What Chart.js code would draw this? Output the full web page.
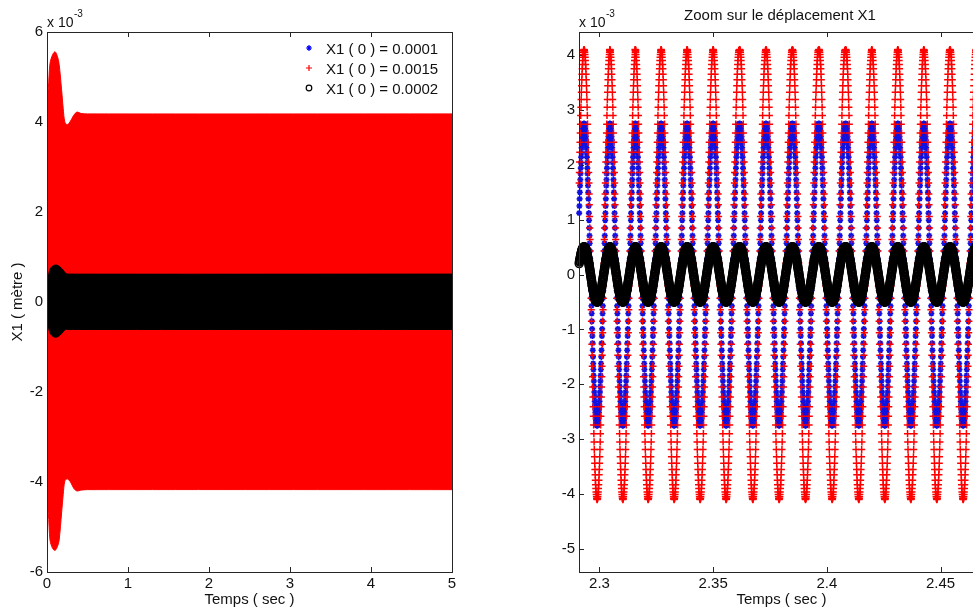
<!DOCTYPE html>
<html><head><meta charset="utf-8">
<script src="https://cdn.jsdelivr.net/npm/chart.js@4.4.1/dist/chart.umd.min.js"></script>
<style>
html,body{margin:0;padding:0;background:#fff;overflow:hidden;width:973px;height:612px;}
#left{position:absolute;left:0;top:0;}
#right{position:absolute;left:490px;top:0;}
</style></head><body>
<canvas id="left" width="490" height="612"></canvas>
<canvas id="right" width="530" height="612"></canvas>
<script>
// ---------- labels ----------
const seriesLabels = ['X1 ( 0 ) = 0.0001', 'X1 ( 0 ) = 0.0015', 'X1 ( 0 ) = 0.0002'];
const seriesColors = ['#0000ff', '#ff0000', '#000000'];
const xTitle = 'Temps ( sec )';
const leftYTitle = 'X1 ( mètre )';
const rightTitle = 'Zoom sur le déplacement X1';

// ---------- tick labels ----------
const leftXTicks = [0, 1, 2, 3, 4, 5];
const leftYTicks = [-6, -4, -2, 0, 2, 4, 6];
const rightXTicks = [2.3, 2.35, 2.4, 2.45];
const rightYTicks = [-5, -4, -3, -2, -1, 0, 1, 2, 3, 4];
const leftXRange = [0, 5];
const leftYRange = [-6, 6];
const rightXRange = [2.291, 2.4691];
const rightYRange = [-5.42, 4.42];

// ---------- left panel: envelopes of the dense bands (x 10^-3 m) ----------
const redEnvT     = [0, 0.016, 0.037, 0.07, 0.10, 0.13, 0.15, 0.18, 0.20, 0.22, 0.25, 0.29, 0.33, 0.37, 0.42, 0.50, 5.0];
const redUpper    = [4.60, 4.75, 5.30, 5.50, 5.56, 5.45, 5.28, 4.72, 4.30, 4.00, 3.94, 4.02, 4.15, 4.22, 4.19, 4.18, 4.18];
const redLower    = [-4.60, -4.69, -5.29, -5.48, -5.52, -5.43, -5.29, -4.69, -4.28, -3.98, -3.93, -4.00, -4.14, -4.20, -4.18, -4.17, -4.17];
const blueEnvT    = [0, 5.0];
const blueUpper   = [2.80, 2.80];
const blueLower   = [-2.80, -2.80];
const blackEnvT   = [0, 0.02, 0.04, 0.08, 0.12, 0.16, 0.20, 0.23, 0.26, 5.0];
const blackUpper  = [0.30, 0.60, 0.74, 0.81, 0.82, 0.78, 0.71, 0.64, 0.62, 0.62];
const blackLower  = [-0.30, -0.58, -0.70, -0.77, -0.78, -0.74, -0.66, -0.61, -0.61, -0.61];

// ---------- right panel: zoom, sampled markers (x 10^-3 m) ----------
const cyclePeakTimes = [2.2817, 2.29323, 2.30453, 2.31566, 2.32709, 2.33852, 2.34996, 2.36170, 2.37326,
  2.38487, 2.39657, 2.40831, 2.41974, 2.43118, 2.44261, 2.45418, 2.46568];
const cycleStep = 0.0000958; // seconds between samples inside one cycle
const redCycle = [4.10,4.09,4.08,4.05,4.01,3.96,3.90,3.83,3.75,3.65,3.55,3.44,3.32,3.19,3.05,2.90,2.74,2.58,2.41,2.23,2.05,1.86,1.67,1.47,1.27,1.06,0.85,0.64,0.43,0.21,0.00,
  -0.21,-0.43,-0.64,-0.85,-1.06,-1.27,-1.47,-1.67,-1.86,-2.05,-2.23,-2.41,-2.58,-2.74,-2.90,-3.05,-3.19,-3.32,-3.44,-3.55,-3.65,-3.75,-3.83,-3.90,-3.96,-4.01,-4.05,-4.08,-4.09,-4.10,
  -4.09,-4.08,-4.05,-4.01,-3.96,-3.90,-3.83,-3.75,-3.65,-3.55,-3.44,-3.32,-3.19,-3.05,-2.90,-2.74,-2.58,-2.41,-2.23,-2.05,-1.86,-1.67,-1.47,-1.27,-1.06,-0.85,-0.64,-0.43,-0.21,0.00,
  0.21,0.43,0.64,0.85,1.06,1.27,1.47,1.67,1.86,2.05,2.23,2.41,2.58,2.74,2.90,3.05,3.19,3.32,3.44,3.55,3.65,3.75,3.83,3.90,3.96,4.01,4.05,4.08,4.09];
const blueCycle = [2.75,2.75,2.74,2.72,2.69,2.66,2.62,2.57,2.51,2.45,2.38,2.31,2.22,2.14,2.04,1.94,1.84,1.73,1.62,1.50,1.38,1.25,1.12,0.99,0.85,0.71,0.57,0.43,0.29,0.14,0.00,
  -0.14,-0.29,-0.43,-0.57,-0.71,-0.85,-0.99,-1.12,-1.25,-1.38,-1.50,-1.62,-1.73,-1.84,-1.94,-2.04,-2.14,-2.22,-2.31,-2.38,-2.45,-2.51,-2.57,-2.62,-2.66,-2.69,-2.72,-2.74,-2.75,-2.75,
  -2.75,-2.74,-2.72,-2.69,-2.66,-2.62,-2.57,-2.51,-2.45,-2.38,-2.31,-2.22,-2.14,-2.04,-1.94,-1.84,-1.73,-1.62,-1.50,-1.38,-1.25,-1.12,-0.99,-0.85,-0.71,-0.57,-0.43,-0.29,-0.14,0.00,
  0.14,0.29,0.43,0.57,0.71,0.85,0.99,1.12,1.25,1.38,1.50,1.62,1.73,1.84,1.94,2.04,2.14,2.22,2.31,2.38,2.45,2.51,2.57,2.62,2.66,2.69,2.72,2.74,2.75];
const blackCycle = [0.50,0.50,0.50,0.49,0.49,0.48,0.48,0.47,0.46,0.45,0.43,0.42,0.40,0.39,0.37,0.35,0.33,0.31,0.29,0.27,0.25,0.23,0.20,0.18,0.15,0.13,0.10,0.08,0.05,0.03,0.00,
  -0.03,-0.05,-0.08,-0.10,-0.13,-0.15,-0.18,-0.20,-0.23,-0.25,-0.27,-0.29,-0.31,-0.33,-0.35,-0.37,-0.39,-0.40,-0.42,-0.43,-0.45,-0.46,-0.47,-0.48,-0.48,-0.49,-0.49,-0.50,-0.50,-0.50,
  -0.50,-0.50,-0.49,-0.49,-0.48,-0.48,-0.47,-0.46,-0.45,-0.43,-0.42,-0.40,-0.39,-0.37,-0.35,-0.33,-0.31,-0.29,-0.27,-0.25,-0.23,-0.20,-0.18,-0.15,-0.13,-0.10,-0.08,-0.05,-0.03,0.00,
  0.03,0.05,0.08,0.10,0.13,0.15,0.18,0.20,0.23,0.25,0.27,0.29,0.31,0.33,0.35,0.37,0.39,0.40,0.42,0.43,0.45,0.46,0.47,0.48,0.48,0.49,0.49,0.50,0.50];

// ---------- helpers ----------
const FONT = '"Liberation Sans", Arial, Helvetica, sans-serif';
const AXIS = '#262626';
Chart.defaults.font.family = FONT;
Chart.defaults.color = '#111';

function pts(ts, vs) { return ts.map((t, i) => ({x: t, y: vs[i]})); }
function buildSamples(cycle) {
  const out = [];
  cyclePeakTimes.forEach(t0 => cycle.forEach((v, i) => {
    const x = t0 + i * cycleStep;
    if (x >= rightXRange[0] && x <= rightXRange[1]) out.push({x: x, y: v});
  }));
  return out;
}

function drawMarker(ctx, kind, x, y, r, color) {
  ctx.save();
  ctx.strokeStyle = color; ctx.lineWidth = 1.2;
  ctx.beginPath();
  if (kind === 'plus' || kind === 'star') {
    ctx.moveTo(x - r, y); ctx.lineTo(x + r, y);
    ctx.moveTo(x, y - r); ctx.lineTo(x, y + r);
    if (kind === 'star') {
      const d = r * 0.6;
      ctx.moveTo(x - d, y - d); ctx.lineTo(x + d, y + d);
      ctx.moveTo(x - d, y + d); ctx.lineTo(x + d, y - d);
    }
  } else {
    ctx.arc(x, y, r, 0, Math.PI * 2);
  }
  ctx.stroke();
  ctx.restore();
}

const decor = {
  id: 'decor',
  beforeDatasetsDraw(chart) {
    const {ctx, chartArea: a, scales: {x, y}} = chart;
    const L = 5;
    ctx.save();
    ctx.strokeStyle = AXIS; ctx.lineWidth = 1;
    ctx.beginPath();
    x.ticks.forEach(t => {
      const px = Math.round(x.getPixelForValue(t.value)) + 0.5;
      ctx.moveTo(px, a.bottom); ctx.lineTo(px, a.bottom - L);
      ctx.moveTo(px, a.top); ctx.lineTo(px, a.top + L);
    });
    y.ticks.forEach(t => {
      const py = Math.round(y.getPixelForValue(t.value)) + 0.5;
      ctx.moveTo(a.left, py); ctx.lineTo(a.left + L, py);
      ctx.moveTo(a.right, py); ctx.lineTo(a.right - L, py);
    });
    ctx.stroke();
    ctx.restore();
  },
  afterDatasetsDraw(chart) {
    const {ctx, chartArea: a} = chart;
    ctx.save();
    ctx.strokeStyle = AXIS; ctx.lineWidth = 1;
    ctx.strokeRect(Math.round(a.left) + 0.5, Math.round(a.top) + 0.5,
                   Math.round(a.right - a.left), Math.round(a.bottom - a.top));
    ctx.restore();
  },
  afterDraw(chart, args, opts) {
    const {ctx, chartArea: a} = chart;
    ctx.save();
    ctx.fillStyle = '#111';
    ctx.textAlign = 'left';
    ctx.textBaseline = 'alphabetic';
    ctx.font = '14px ' + FONT;
    ctx.fillText('x 10', a.left, 27);
    const w = ctx.measureText('x 10').width;
    ctx.font = '10px ' + FONT;
    ctx.fillText('-3', a.left + w + 0.5, 17);
    if (opts.title) {
      ctx.font = '15px ' + FONT;
      ctx.textAlign = 'center';
      ctx.fillText(opts.title, (a.left + a.right) / 2 - 1.5, 20);
    }
    if (opts.legend) {
      const kinds = ['star', 'plus', 'circle'];
      const sizes = [3, 3, 2.8];
      ctx.font = '15px ' + FONT;
      ctx.textAlign = 'left';
      seriesLabels.forEach((lab, i) => {
        const cy = 48 + i * 20;
        drawMarker(ctx, kinds[i], a.right - 143, cy, sizes[i], seriesColors[i]);
        ctx.fillStyle = '#111';
        ctx.fillText(lab, a.right - 126, cy + 6);
      });
    }
    ctx.restore();
  }
};

function axisX(range, ticks, labelFn) {
  return {
    type: 'linear', position: 'bottom', min: range[0], max: range[1],
    grid: {display: false, drawTicks: false, tickLength: 0}, border: {display: false},
    afterBuildTicks: s => { s.ticks = ticks.map(v => ({value: v})); },
    afterFit: s => { s.height = 40; },
    ticks: {padding: 3, font: {size: 15}, color: '#111', maxRotation: 0, autoSkip: false, callback: labelFn},
    title: {display: true, text: xTitle, font: {size: 15}, color: '#111', padding: {top: 0, bottom: 3}}
  };
}
function axisY(range, ticks, width, title) {
  return {
    type: 'linear', position: 'left', min: range[0], max: range[1],
    grid: {display: false, drawTicks: false, tickLength: 0}, border: {display: false},
    afterBuildTicks: s => { s.ticks = ticks.map(v => ({value: v})); },
    afterFit: s => { s.width = width; },
    ticks: {padding: 4, font: {size: 15}, color: '#111', autoSkip: false, callback: v => String(v)},
    title: title ? {display: true, text: title, font: {size: 15}, color: '#111', padding: {top: 9, bottom: 0}} : {display: false}
  };
}

const band = (ts, vs, color, fill) => ({
  data: pts(ts, vs), borderColor: color, backgroundColor: color, borderWidth: 1,
  pointRadius: 0, tension: 0.3, fill: fill
});

// ---------- left chart ----------
new Chart(document.getElementById('left'), {
  type: 'line',
  data: {
    datasets: [
      band(blackEnvT, blackUpper, seriesColors[2], '+1'),
      band(blackEnvT, blackLower, seriesColors[2], false),
      band(redEnvT, redUpper, seriesColors[1], '+1'),
      band(redEnvT, redLower, seriesColors[1], false),
      band(blueEnvT, blueUpper, seriesColors[0], '+1'),
      band(blueEnvT, blueLower, seriesColors[0], false)
    ]
  },
  options: {
    responsive: false, animation: false, events: [],
    layout: {padding: {left: 0, right: 38, top: 32, bottom: 0}},
    plugins: {legend: {display: false}, tooltip: {enabled: false}, decor: {legend: true}},
    scales: {
      x: axisX(leftXRange, leftXTicks, v => String(v)),
      y: axisY(leftYRange, leftYTicks, 47, leftYTitle)
    }
  },
  plugins: [decor]
});

// ---------- right chart ----------
new Chart(document.getElementById('right'), {
  type: 'scatter',
  data: {
    datasets: [
      {label: seriesLabels[2], data: buildSamples(blackCycle), order: 0, pointStyle: 'circle',
       pointRadius: 4, borderColor: seriesColors[2], backgroundColor: 'rgba(0,0,0,0)', pointBorderWidth: 1.5, clip: false},
      {label: seriesLabels[1], data: buildSamples(redCycle), order: 1, pointStyle: 'cross',
       pointRadius: 3.6, borderColor: seriesColors[1], backgroundColor: seriesColors[1], pointBorderWidth: 1.5, clip: false},
      {label: seriesLabels[0], data: buildSamples(blueCycle), order: 2, pointStyle: 'star',
       pointRadius: 3, borderColor: '#1010e0', backgroundColor: '#1010e0', pointBorderWidth: 1.6, clip: false}
    ]
  },
  options: {
    responsive: false, animation: false, events: [],
    layout: {padding: {left: 0, right: 36, top: 32, bottom: 0}},
    plugins: {legend: {display: false}, tooltip: {enabled: false}, decor: {title: rightTitle}},
    scales: {
      x: axisX(rightXRange, rightXTicks, v => String(v)),
      y: axisY(rightYRange, rightYTicks, 89, null)
    }
  },
  plugins: [decor]
});
</script></body></html>
